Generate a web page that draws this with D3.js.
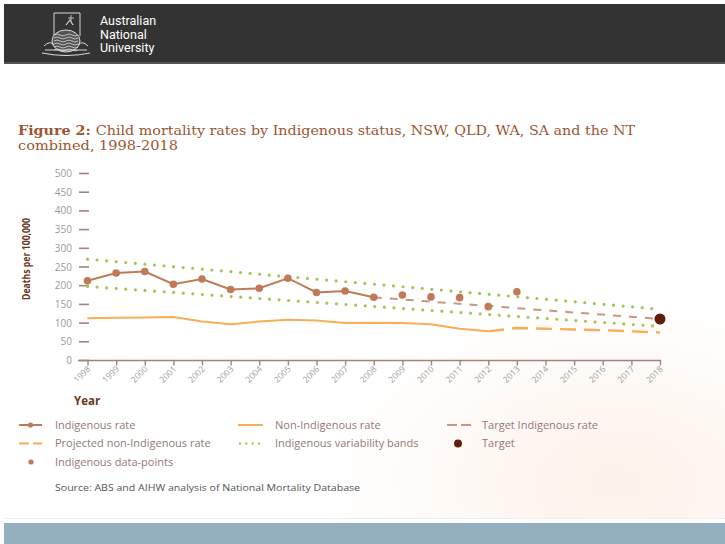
<!DOCTYPE html>
<html><head><meta charset="utf-8">
<script src="https://cdn.jsdelivr.net/npm/d3@7"></script>
<style>html,body{margin:0;padding:0;background:#fff;}svg{display:block;}</style>
</head><body>
<script>
// ---- data ----
const years = d3.range(1998, 2019);
const yTicks = [0, 50, 100, 150, 200, 250, 300, 350, 400, 450, 500];
const indigenousYears = [1998,1999,2000,2001,2002,2003,2004,2005,2006,2007,2008];
const indigenousRate  = [213, 234, 238, 204, 218, 190, 193, 220, 182, 186, 169];
const indDataYears  = [2009, 2010, 2011, 2012, 2013];
const indDataPoints = [175, 170, 168, 144, 184];
const nonIndYears = [1998,1999,2000,2001,2002,2003,2004,2005,2006,2007,2008,2009,2010,2011,2012];
const nonIndRate  = [113, 114, 115, 116, 104, 97, 104, 109, 107, 100, 101, 100, 97, 85, 78];
const projYears = [2012, 2013, 2014, 2015, 2016, 2017, 2018];
const projRate  = [78, 87, 85, 83, 81, 78, 75];
const targetYears = [2008, 2018];
const targetRate  = [169, 111];
const bandYears = [1998, 2018];
const bandUpper = [271, 137];
const bandLower = [198, 91];
const targetPoint = {year: 2018, value: 111};
const legendItems = [
  ["Indigenous rate", "indRate"], ["Non-Indigenous rate", "nonInd"], ["Target Indigenous rate", "targetLine"],
  ["Projected non-Indigenous rate", "proj"], ["Indigenous variability bands", "band"], ["Target", "target"],
  ["Indigenous data-points", "dataPts"]
];

const W = 725, H = 544;
const C = {ind:"#bf7a57", nonInd:"#f6ae57", target:"#c99682", band:"#a9c254", dark:"#5e1f0f",
           axis:"#a9807a", tick:"#9a9a9a", title:"#9b5634", label:"#6d3522", legend:"#967872"};

const svg = d3.select("body").append("svg").attr("width", W).attr("height", H);
const defs = svg.append("defs");
const rg = defs.append("radialGradient").attr("id","peach").attr("cx","0.85").attr("cy","0.92").attr("r","0.4");
rg.append("stop").attr("offset","0").attr("stop-color","#fdf1e8");
rg.append("stop").attr("offset","1").attr("stop-color","#ffffff");
svg.append("rect").attr("x",4).attr("y",64).attr("width",W-4).attr("height",455).attr("fill","url(#peach)");

// header
svg.append("rect").attr("x",4).attr("y",4).attr("width",W-4).attr("height",60).attr("fill","#333333");
svg.append("rect").attr("x",4).attr("y",62).attr("width",W-4).attr("height",2).attr("fill","#555");
// crest (simplified)
const cr = svg.append("g").attr("fill","none").attr("stroke","#d8d8d8").attr("stroke-width",1);
cr.append("path").attr("d","M54,13 L80,13 L80,36 M54,13 L54,36");
cr.append("path").attr("d","M66,25 L70,20 L73,25").attr("stroke-width",1.2);
cr.append("path").attr("d","M71,15 L71,21 M68,18 L74,18").attr("stroke-width",0.8);
cr.append("ellipse").attr("cx",66).attr("cy",41).attr("rx",14).attr("ry",11).attr("fill","#555");
for (let i=0;i<6;i++){
  cr.append("path").attr("d",`M${54},${35+i*3} q3,-2 6,0 t6,0 t6,0 t6,0`).attr("stroke-width",0.8);
}
cr.append("path").attr("d","M44,46 Q50,40 54,45 M88,46 Q82,40 78,45").attr("stroke-width",1);
cr.append("path").attr("d","M42,53 Q66,58 90,53 M45,50 L87,50").attr("stroke-width",1);
const hdr = svg.append("g").attr("fill","#ffffff").style("font-family","Roboto, 'Liberation Sans', sans-serif").style("font-size","12.5px");
["Australian","National","University"].forEach((t,i)=>hdr.append("text").attr("x",100).attr("y",25+i*13.5).text(t));

// footer band
svg.append("rect").attr("x",4).attr("y",518).attr("width",W-4).attr("height",1).attr("fill","#eeeeee");
svg.append("rect").attr("x",4).attr("y",523).attr("width",W-4).attr("height",21).attr("fill","#94afbd");

// title
const title = svg.append("g").style("font-family","'DejaVu Serif', serif").attr("fill",C.title);
const t1 = title.append("text").attr("x",18).attr("y",135).style("font-size","12.5px")
  .attr("textLength",617).attr("lengthAdjust","spacingAndGlyphs");
t1.append("tspan").style("font-weight","bold").text("Figure 2: ");
t1.append("tspan").text("Child mortality rates by Indigenous status, NSW, QLD, WA, SA and the NT");
title.append("text").attr("x",18).attr("y",150).style("font-size","12.5px")
  .attr("textLength",160).attr("lengthAdjust","spacingAndGlyphs").text("combined, 1998-2018");

// scales
const x = d3.scaleLinear().domain([1998, 2018]).range([87.5, 660]);
const y = d3.scaleLinear().domain([0, 500]).range([360.5, 173.5]);

// y ticks (dashes + labels)
const yg = svg.append("g");
yg.selectAll("line").data(yTicks).join("line")
  .attr("x1",79).attr("x2",89).attr("y1",d=>y(d)).attr("y2",d=>y(d))
  .attr("stroke",C.axis).attr("stroke-width",1.6);
yg.selectAll("text").data(yTicks).join("text")
  .attr("x",72).attr("y",d=>y(d)).attr("dy","0.35em").attr("text-anchor","end")
  .attr("fill",C.tick).style("font-family","'Open Sans', sans-serif").style("font-size","10px").text(d=>d);

// x axis
const xAxis = d3.axisBottom(x).tickValues(years).tickFormat(d3.format("d")).tickSize(5).tickSizeOuter(0);
const xg = svg.append("g").attr("transform","translate(0,360.5)").call(xAxis);
xg.select(".domain").attr("d","M78,0H661").attr("stroke",C.axis).attr("stroke-width",1.6);
xg.selectAll(".tick line").attr("stroke",C.axis).attr("stroke-width",1.4);
xg.selectAll(".tick text").attr("fill",C.tick).style("font-family","'Open Sans', sans-serif").style("font-size","8.5px")
  .attr("text-anchor","end").attr("dy",null).attr("y",0)
  .attr("transform","translate(3,9) rotate(-45)");

// axis titles
svg.append("text").attr("transform",`translate(30,${259}) rotate(-90)`).attr("text-anchor","middle")
  .attr("fill",C.label).style("font-family","'Open Sans', sans-serif").style("font-weight","bold").style("font-size","11px")
  .attr("textLength",82).attr("lengthAdjust","spacingAndGlyphs").text("Deaths per 100,000");
svg.append("text").attr("x",74).attr("y",405).attr("fill",C.label)
  .style("font-family","'Open Sans', sans-serif").style("font-weight","bold").style("font-size","11.5px").text("Year");

const plot = svg.append("g");
const line = d3.line().x(d=>x(d[0])).y(d=>y(d[1]));
const zip = (a,b)=>a.map((v,i)=>[v,b[i]]);

// variability bands
[bandUpper, bandLower].forEach(b=>{
  plot.append("path").attr("d",line(zip(bandYears,b))).attr("fill","none")
    .attr("stroke",C.band).attr("stroke-width",3.2).attr("stroke-linecap","round").attr("stroke-dasharray","0 9.6");
});
// non-indigenous
plot.append("path").attr("d",line(zip(nonIndYears,nonIndRate))).attr("fill","none")
  .attr("stroke",C.nonInd).attr("stroke-width",2);
plot.append("path").attr("d",line(zip(projYears,projRate))).attr("fill","none")
  .attr("stroke",C.nonInd).attr("stroke-width",2.4).attr("stroke-dasharray","16 8");
// target line
plot.append("path").attr("d",line(zip(targetYears,targetRate))).attr("fill","none")
  .attr("stroke",C.target).attr("stroke-width",2).attr("stroke-dasharray","8 8");
// indigenous rate
plot.append("path").attr("d",line(zip(indigenousYears,indigenousRate))).attr("fill","none")
  .attr("stroke",C.ind).attr("stroke-width",2);
plot.selectAll("circle.ir").data(zip(indigenousYears,indigenousRate)).join("circle").attr("class","ir")
  .attr("cx",d=>x(d[0])).attr("cy",d=>y(d[1])).attr("r",3.8).attr("fill",C.ind);
plot.selectAll("circle.dp").data(zip(indDataYears,indDataPoints)).join("circle").attr("class","dp")
  .attr("cx",d=>x(d[0])).attr("cy",d=>y(d[1])).attr("r",3.8).attr("fill",C.ind);
plot.append("circle").attr("cx",x(targetPoint.year)).attr("cy",y(targetPoint.value)).attr("r",5.5).attr("fill",C.dark);

// legend
const lg = svg.append("g").style("font-family","'Open Sans', sans-serif").style("font-size","11px");
const colX = [18, 238, 447], textX = [55, 275, 482], rowY = [425, 443.5, 462];
legendItems.forEach((it,i)=>{
  const col = i % 3, row = Math.floor(i/3);
  const mx = colX[col], my = rowY[row];
  const g = lg.append("g");
  const k = it[1];
  if (k==="indRate"){
    g.append("line").attr("x1",mx+1).attr("x2",mx+24).attr("y1",my).attr("y2",my).attr("stroke",C.ind).attr("stroke-width",2);
    g.append("circle").attr("cx",mx+12.5).attr("cy",my).attr("r",2.6).attr("fill",C.ind);
  } else if (k==="nonInd"){
    g.append("line").attr("x1",mx).attr("x2",mx+25).attr("y1",my).attr("y2",my).attr("stroke",C.nonInd).attr("stroke-width",2);
  } else if (k==="targetLine"){
    g.append("line").attr("x1",mx).attr("x2",mx+24).attr("y1",my).attr("y2",my).attr("stroke",C.target).attr("stroke-width",2).attr("stroke-dasharray","10 4");
  } else if (k==="proj"){
    g.append("line").attr("x1",mx+1).attr("x2",mx+24).attr("y1",my).attr("y2",my).attr("stroke",C.nonInd).attr("stroke-width",2).attr("stroke-dasharray","10 4");
  } else if (k==="band"){
    g.append("line").attr("x1",mx+2).attr("x2",mx+24).attr("y1",my).attr("y2",my).attr("stroke",C.band).attr("stroke-width",2.4)
      .attr("stroke-linecap","round").attr("stroke-dasharray","0 6.3");
  } else if (k==="target"){
    g.append("circle").attr("cx",mx+11).attr("cy",my).attr("r",4).attr("fill",C.dark);
  } else if (k==="dataPts"){
    g.append("circle").attr("cx",mx+13).attr("cy",my).attr("r",2.6).attr("fill",C.ind);
  }
  g.append("text").attr("x",textX[col]).attr("y",my).attr("dy","0.35em").attr("fill",C.legend).text(it[0]);
});
svg.append("text").attr("x",55).attr("y",488).attr("dy","0.35em").attr("fill","#555")
  .style("font-family","'Open Sans', sans-serif").style("font-size","9px")
  .attr("textLength",305).attr("lengthAdjust","spacingAndGlyphs")
  .text("Source: ABS and AIHW analysis of National Mortality Database");
</script>
</body></html>
